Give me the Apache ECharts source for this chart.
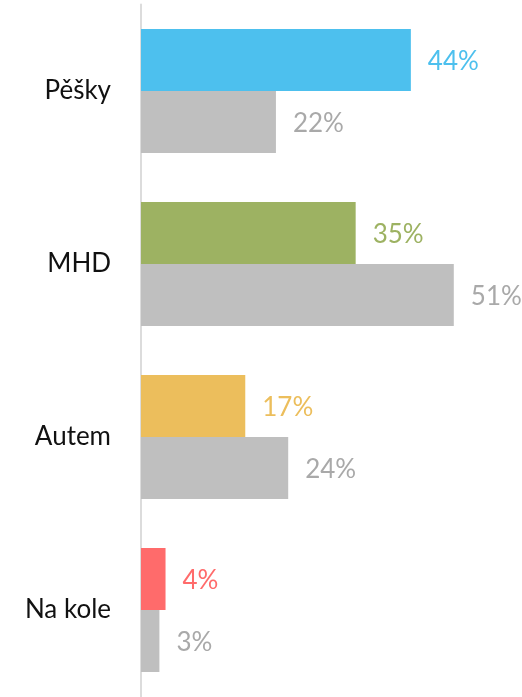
<!DOCTYPE html>
<html>
<head>
<meta charset="utf-8">
<script src="https://cdn.jsdelivr.net/npm/echarts@6/dist/echarts.min.js"></script>
<style>
html,body{margin:0;padding:0;background:#fff;}
#chart{width:522px;height:697px;}
</style>
</head>
<body>
<div id="chart"></div>
<script>
const categories = ['Pěšky', 'MHD', 'Autem', 'Na kole'];
const mainValues = [44, 35, 17, 4];
const compareValues = [22, 51, 24, 3];
const mainColors = ['#4DC0EE', '#9DB262', '#ECBE5C', '#FF6B6B'];
const greyColor = '#BFBFBF';
const greyLabel = '#A9A9A9';

const chart = echarts.init(document.getElementById('chart'));
const font = 'Lato';
chart.setOption({
  animation: false,
  grid: { left: 141, right: 13, top: 4.5, bottom: 0.5, containLabel: false },
  xAxis: {
    type: 'value', min: 0, max: 60,
    show: false
  },
  yAxis: {
    type: 'category', data: categories, inverse: true,
    axisLine: { show: true, lineStyle: { color: '#DCDCDC', width: 2 } },
    axisTick: { show: false },
    axisLabel: { color: '#111', fontSize: 26, fontFamily: font, margin: 30, padding: [4, 0, 0, 0] }
  },
  series: [
    {
      type: 'bar', barWidth: 62, barGap: '0%',
      data: mainValues.map((v, i) => ({ value: v, itemStyle: { color: mainColors[i] }, label: { color: mainColors[i] } })),
      label: { show: true, position: 'right', distance: 17, offset: [0, 2], fontSize: 26, fontFamily: font, formatter: '{c}%' }
    },
    {
      type: 'bar', barWidth: 62, barGap: '0%',
      data: compareValues,
      itemStyle: { color: greyColor },
      label: { show: true, position: 'right', distance: 17, offset: [0, 2], fontSize: 26, fontFamily: font, color: greyLabel, formatter: '{c}%' }
    }
  ]
});
</script>
</body>
</html>
